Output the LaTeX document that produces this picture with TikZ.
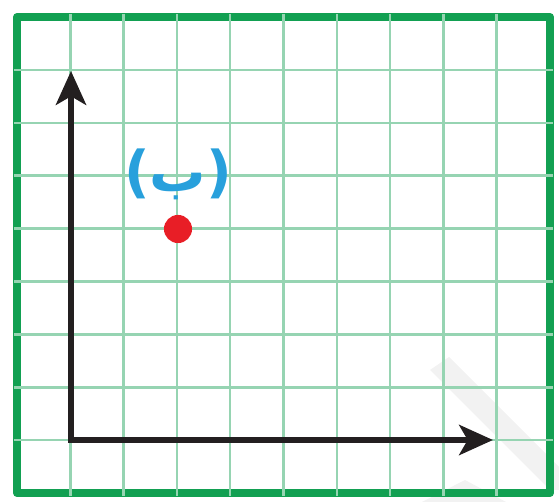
\documentclass[tikz,border=0pt]{standalone}
\usepackage{fontspec}
\newfontfamily\arabicfont[Script=Arabic]{DejaVu Sans}
\usetikzlibrary{arrows.meta}
\definecolor{bordergreen}{RGB}{18,160,82}
\definecolor{gridgreen}{RGB}{150,212,178}
\definecolor{axisblack}{RGB}{35,31,32}
\definecolor{dotred}{RGB}{232,30,38}
\definecolor{labelblue}{RGB}{40,160,220}
\definecolor{wmgray}{RGB}{242,242,242}
\tikzset{
  gridline/.style={draw=gridgreen, line width=1.35pt},
  frame/.style={draw=bordergreen, line width=4.2pt, line join=round},
  axisline/.style={draw=axisblack, line width=3.7pt, line join=miter,
    {Stealth[length=18pt,width=16pt,inset=4.5pt]}-{Stealth[length=18pt,width=16pt,inset=4.5pt]}},
  pointdot/.style={circle, fill=dotred, inner sep=0pt, minimum size=15pt},
  labeltext/.style={text=labelblue, inner sep=0pt, font=\fontsize{30}{34}\selectfont\arabicfont\bfseries}
}
\begin{document}
\begin{tikzpicture}[x=0.018762cm, y=-0.018762cm]
\useasboundingbox (0,0) rectangle (559,502);
% faint watermark
\fill[wmgray] (430,370) -- (449,357) -- (559,467) -- (559,490) -- (550,490) -- cycle;
\fill[wmgray] (422,502) -- (465,480) -- (506,502) -- cycle;
% frame
\draw[frame] (17,17) rectangle (550,493);
% grid (its ends lightly cross the frame, as in the reference)
\foreach \i in {1,...,9} \draw[gridline] ({17+53.3*\i},14) -- ({17+53.3*\i},496);
\foreach \j in {1,...,8} \draw[gridline] (14,{17+52.9*\j}) -- (553,{17+52.9*\j});
% axes
\coordinate (o) at (71,440);
\coordinate (ytip) at (71,71);
\coordinate (xtip) at (493,440);
\draw[axisline] (ytip) -- (o) -- (xtip);
% point and label
\node[pointdot] (p) at (178,229) {};
\node[labeltext] (lbl) at (178,174) {(ب)};
\end{tikzpicture}
\end{document}
